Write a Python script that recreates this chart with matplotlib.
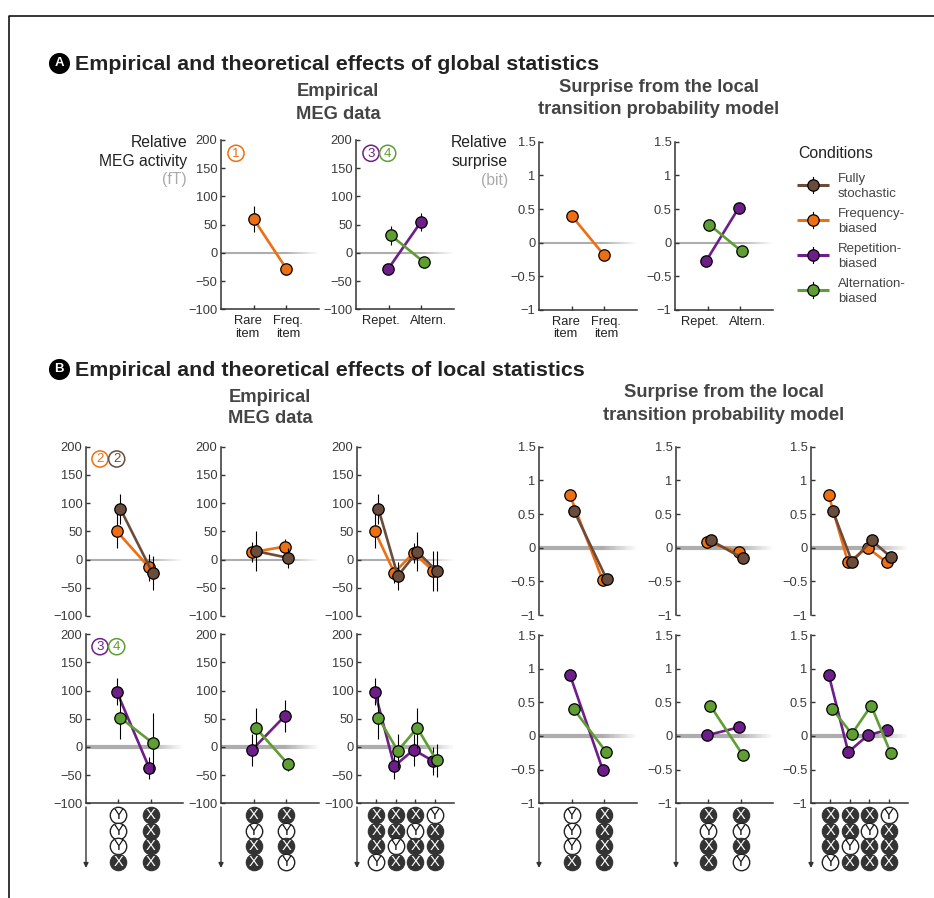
import matplotlib
matplotlib.use("Agg")
import matplotlib.pyplot as plt
import numpy as np
from matplotlib.collections import LineCollection

plt.rcParams['font.family'] = ['Liberation Sans', 'DejaVu Sans']
plt.rcParams['axes.unicode_minus'] = True

# ---------------- data ----------------
cond_names = ["Fully\nstochastic", "Frequency-\nbiased", "Repetition-\nbiased", "Alternation-\nbiased"]
cond_colors = ["#6B4C3B", "#EE6E12", "#6E1E88", "#5E9E32"]

emp_yticks = [-100, -50, 0, 50, 100, 150, 200]
emp_ylabels = ["\u2212100", "\u221250", "0", "50", "100", "150", "200"]
sur_yticks = [-1, -0.5, 0, 0.5, 1, 1.5]
sur_ylabels = ["\u22121", "\u22120.5", "0", "0.5", "1", "1.5"]

a_freq_labels = ["Rare\nitem", "Freq.\nitem"]
a_rep_labels = ["Repet.", "Altern."]

# Panel A, empirical (fT)
a_emp_orange = [60, -28]
a_emp_orange_err = [23, 9]
a_emp_purple = [-29, 54]
a_emp_purple_err = [8, 16]
a_emp_green = [31, -16]
a_emp_green_err = [17, 6]
# Panel A, surprise (bit)
a_sur_orange = [0.40, -0.19]
a_sur_purple = [-0.27, 0.52]
a_sur_green = [0.27, -0.13]

# Panel B, empirical, row 1 (frequency-biased / fully stochastic)
b1_emp_orange = [50, -14]
b1_emp_orange_err = [30, 24]
b1_emp_brown = [90, -24]
b1_emp_brown_err = [27, 30]
b2_emp_orange = [13, 23]
b2_emp_orange_err = [18, 13]
b2_emp_brown = [15, 3]
b2_emp_brown_err = [35, 18]
b3_emp_orange = [50, -23, 12, -20]
b3_emp_orange_err = [30, 18, 18, 35]
b3_emp_brown = [90, -29, 14, -20]
b3_emp_brown_err = [27, 25, 35, 35]
# Panel B, empirical, row 2 (repetition / alternation)
b1_emp_purple = [98, -37]
b1_emp_purple_err = [24, 20]
b1_emp_green = [52, 7]
b1_emp_green_err = [38, 53]
b2_emp_purple = [-5, 55]
b2_emp_purple_err = [28, 29]
b2_emp_green = [34, -31]
b2_emp_green_err = [35, 12]
b3_emp_purple = [98, -34, -5, -25]
b3_emp_purple_err = [24, 22, 28, 25]
b3_emp_green = [52, -7, 34, -24]
b3_emp_green_err = [38, 30, 35, 30]

# Panel B, surprise, row 1
s1_orange = [0.78, -0.48]
s1_brown = [0.55, -0.465]
s2_orange = [0.08, -0.06]
s2_brown = [0.11, -0.16]
s3_orange = [0.78, -0.22, 0.0, -0.22]
s3_brown = [0.55, -0.21, 0.11, -0.14]
# Panel B, surprise, row 2
s1_purple = [0.90, -0.505]
s1_green = [0.40, -0.24]
s2_purple = [0.01, 0.13]
s2_green = [0.45, -0.28]
s3_purple = [0.90, -0.24, 0.01, 0.09]
s3_green = [0.40, 0.03, 0.45, -0.25]

# Sequences shown below row-2 panels (top to bottom, one list per column)
seq_p1 = [["Y", "Y", "Y", "X"], ["X", "X", "X", "X"]]
seq_p2 = [["X", "Y", "X", "X"], ["X", "Y", "X", "Y"]]
seq_p3 = [["X", "X", "X", "Y"], ["X", "X", "Y", "X"], ["X", "Y", "X", "X"], ["Y", "X", "X", "X"]]

# ---------------- figure ----------------
W, H = 934, 898
fig = plt.figure(figsize=(W / 100, H / 100), dpi=100)

BROWN, ORANGE, PURPLE, GREEN = cond_colors
AX_COL = "#333333"
TXT = "#222222"
SUB = "#444444"


def rect(x0, y0, x1, y1):
    return [x0 / W, 1 - y1 / H, (x1 - x0) / W, (y1 - y0) / H]


# overlay axes in pixel coordinates
ov = fig.add_axes([0, 0, 1, 1])
ov.set_xlim(0, W)
ov.set_ylim(H, 0)
ov.axis("off")
ov.patch.set_visible(False)

# frame
ov.plot([9, 9, W], [H, 16, 16], color="k", lw=1.1, solid_capstyle="butt")


def zero_line(ax, xmax, lw):
    n = 80
    xs = np.linspace(0, xmax, n + 1)
    segs = [[(xs[i], 0), (xs[i + 1], 0)] for i in range(n)]
    t = (xs[:-1] + xs[1:]) / 2 / xmax
    alpha = np.clip((1 - t) / 0.35, 0, 1)
    cols = [(0.68, 0.68, 0.68, a) for a in alpha]
    lc = LineCollection(segs, colors=cols, linewidths=lw, zorder=1, capstyle="butt")
    ax.add_collection(lc)


def make_ax(x0, y0, x1, y1, kind, npts, bottom=True, xlabels=None, label_dx=None, zlw=1.5):
    ax = fig.add_axes(rect(x0, y0, x1, y1))
    ax.patch.set_visible(False)
    xmax = npts + 1
    ax.set_xlim(0, xmax)
    ax.px_per_unit = (x1 - x0) / xmax
    if kind == "emp":
        ax.set_ylim(-100, 200)
        ax.set_yticks(emp_yticks)
        ax.set_yticklabels(emp_ylabels)
    else:
        ax.set_ylim(-1, 1.5)
        ax.set_yticks(sur_yticks)
        ax.set_yticklabels(sur_ylabels)
    for s in ["top", "right"]:
        ax.spines[s].set_visible(False)
    ax.spines["left"].set_color(AX_COL)
    ax.spines["left"].set_linewidth(1.1)
    ax.spines["bottom"].set_color(AX_COL)
    ax.spines["bottom"].set_linewidth(1.1)
    ax.tick_params(axis="y", direction="in", length=3, width=1, colors=AX_COL,
                   labelsize=9.3, pad=2.5, labelcolor="#3a3a3a")
    ax.set_xticks(np.arange(1, npts + 1))
    ax.set_xticklabels([])
    if bottom:
        ax.tick_params(axis="x", direction="in", length=3, width=1, colors=AX_COL)
        if xlabels is not None:
            hpx = (y1 - y0)
            for k, lab in enumerate(xlabels):
                xx = k + 1 + label_dx[k] / ax.px_per_unit
                ax.text(xx, -6.0 / hpx, lab, transform=ax.get_xaxis_transform(),
                        ha="center", va="top", fontsize=9.3, color="#222222",
                        linespacing=1.05)
    else:
        ax.spines["bottom"].set_visible(False)
        ax.tick_params(axis="x", length=0)
    zero_line(ax, xmax, zlw)
    return ax


def series(ax, ys, color, dpx, errs=None, base=3):
    ys = np.asarray(ys, dtype=float)
    x = np.arange(1, len(ys) + 1) + dpx / ax.px_per_unit
    if errs is not None:
        e = np.asarray(errs, dtype=float)
        ax.vlines(x, ys - e, ys + e, color="k", lw=0.8, zorder=base)
    ax.plot(x, ys, color=color, lw=1.9, zorder=base + 0.5, solid_capstyle="butt")
    ax.plot(x, ys, "o", ms=8.2, mfc=color, mec="k", mew=0.9, zorder=base + 1,
            clip_on=False)


def symbols(x0, x1, npts, seqs, arrow_top, arrow_bot, ys):
    sa = fig.add_axes(rect(x0, arrow_top - 4, x1, arrow_bot + 6))
    sa.set_xlim(0, npts + 1)
    sa.set_ylim(arrow_bot + 6, arrow_top - 4)
    sa.axis("off")
    sa.patch.set_visible(False)
    sa.annotate("", xy=(0, arrow_bot), xytext=(0, arrow_top),
                arrowprops=dict(arrowstyle="-|>", color=AX_COL, lw=1.0,
                                mutation_scale=7, shrinkA=0, shrinkB=0),
                annotation_clip=False)
    for ci, col in enumerate(seqs):
        for ri, sym in enumerate(col):
            xx = ci + 1
            yy = ys[ri]
            if sym == "X":
                sa.scatter([xx], [yy], s=140, c="#333333", edgecolors="#333333",
                           linewidths=0.8, zorder=3, clip_on=False)
                sa.text(xx, yy + 0.4, "X", color="white", fontsize=10.5, ha="center",
                        va="center", zorder=4)
            else:
                sa.scatter([xx], [yy], s=140, c="white", edgecolors="#222222",
                           linewidths=1.0, zorder=3, clip_on=False)
                sa.text(xx, yy + 0.4, "Y", color="#111111", fontsize=10.5, ha="center",
                        va="center", zorder=4)


def circ_digit(x, y, d, color):
    ov.scatter([x], [y], s=135, facecolors="none", edgecolors=color, linewidths=1.1)
    ov.text(x, y + 0.5, d, color=color, fontsize=9.5, ha="center", va="center")


def section(x, y, letter, title, baseline):
    ov.scatter([x], [y], s=200, c="k")
    ov.text(x, y + 0.5, letter, color="white", fontsize=9.5, fontweight="bold",
            ha="center", va="center")
    ov.text(75, baseline, title, fontsize=15.4, fontweight="bold", color=TXT,
            ha="left", va="baseline")


def subtitle(xc, b1, b2, l1, l2):
    ov.text(xc, b1, l1, fontsize=13.2, fontweight="bold", color=SUB, ha="center", va="baseline")
    ov.text(xc, b2, l2, fontsize=13.2, fontweight="bold", color=SUB, ha="center", va="baseline")


# ---------------- section A ----------------
section(59, 63, "A", "Empirical and theoretical effects of global statistics", 70)
subtitle(338, 96.5, 119, "Empirical", "MEG data")
subtitle(659, 92, 114, "Surprise from the local", "transition probability model")

for txt, b, c in [("Relative", 146.7, TXT), ("MEG activity", 166, TXT), ("(fT)", 184, "#aaaaaa")]:
    ov.text(187, b, txt, fontsize=11.3, color=c, ha="right", va="baseline")
for txt, b, c in [("Relative", 146.7, TXT), ("surprise", 166, TXT), ("(bit)", 185, "#aaaaaa")]:
    ov.text(508, b, txt, fontsize=11.3, color=c, ha="right", va="baseline")

freq_dx = [-6, 1.5]
rep_dx = [-8, 7.5]

A1 = make_ax(221, 140, 319, 309.3, "emp", 2, xlabels=a_freq_labels, label_dx=freq_dx)
series(A1, a_emp_orange, ORANGE, 0, a_emp_orange_err)
A2 = make_ax(356, 140, 454, 309.3, "emp", 2, xlabels=a_rep_labels, label_dx=rep_dx)
series(A2, a_emp_purple, PURPLE, -0.7, a_emp_purple_err, base=3)
series(A2, a_emp_green, GREEN, 2.3, a_emp_green_err, base=6)
circ_digit(236, 153.3, "1", ORANGE)
circ_digit(371, 153.3, "3", PURPLE)
circ_digit(387.7, 153.3, "4", GREEN)

A3 = make_ax(539, 141.7, 637, 310, "sur", 2, xlabels=a_freq_labels, label_dx=freq_dx)
series(A3, a_sur_orange, ORANGE, 0)
A4 = make_ax(675, 141.7, 773, 310, "sur", 2, xlabels=a_rep_labels, label_dx=rep_dx)
series(A4, a_sur_purple, PURPLE, -1.5, base=3)
series(A4, a_sur_green, GREEN, 1.5, base=6)

# legend
ov.text(798, 158.3, "Conditions", fontsize=11.4, color=TXT, ha="left", va="baseline")
leg_y = [185, 219.5, 254.5, 289.5]
for name, col, yy in zip(cond_names, cond_colors, leg_y):
    ov.plot([797, 829], [yy, yy], color=col, lw=2.2, solid_capstyle="butt", zorder=2)
    ov.plot([813, 813], [yy - 8, yy + 8], color="k", lw=0.8, zorder=3)
    ov.plot([813], [yy], "o", ms=8.2, mfc=col, mec="k", mew=0.9, zorder=4)
    l1, l2 = name.split("\n")
    ov.text(838, yy - 2.7, l1, fontsize=9.5, color=SUB, ha="left", va="baseline")
    ov.text(838, yy + 12.3, l2, fontsize=9.5, color=SUB, ha="left", va="baseline")

# ---------------- section B ----------------
section(59, 369, "B", "Empirical and theoretical effects of local statistics", 376)
subtitle(270, 402.5, 423, "Empirical", "MEG data")
subtitle(724, 397, 420, "Surprise from the local", "transition probability model")

emp_x = [(86, 183), (221, 319), (357, 454)]
sur_x = [(539, 637), (676, 773), (811, 908)]
npts_list = [2, 2, 4]
seqs_list = [seq_p1, seq_p2, seq_p3]

row1_emp = [(b1_emp_orange, b1_emp_orange_err, b1_emp_brown, b1_emp_brown_err),
            (b2_emp_orange, b2_emp_orange_err, b2_emp_brown, b2_emp_brown_err),
            (b3_emp_orange, b3_emp_orange_err, b3_emp_brown, b3_emp_brown_err)]
row2_emp = [(b1_emp_purple, b1_emp_purple_err, b1_emp_green, b1_emp_green_err),
            (b2_emp_purple, b2_emp_purple_err, b2_emp_green, b2_emp_green_err),
            (b3_emp_purple, b3_emp_purple_err, b3_emp_green, b3_emp_green_err)]
row1_sur = [(s1_orange, s1_brown), (s2_orange, s2_brown), (s3_orange, s3_brown)]
row2_sur = [(s1_purple, s1_green), (s2_purple, s2_green), (s3_purple, s3_green)]

sym_rows = [815, 830.7, 846, 861.7]

for i in range(3):
    x0, x1 = emp_x[i]
    n = npts_list[i]
    ax = make_ax(x0, 446.7, x1, 616, "emp", n, bottom=False, zlw=1.5)
    o, oe, b, be = row1_emp[i]
    series(ax, o, ORANGE, -1.5, oe, base=3)
    series(ax, b, BROWN, 2.0, be, base=6)

    ax = make_ax(x0, 634.3, x1, 803.3, "emp", n, bottom=True, zlw=3)
    p, pe, g, ge = row2_emp[i]
    series(ax, p, PURPLE, -1.5, pe, base=3)
    series(ax, g, GREEN, 2.0, ge, base=6)
    symbols(x0, x1, n, seqs_list[i], 807, 868, sym_rows)

    sx0, sx1 = sur_x[i]
    ax = make_ax(sx0, 446.7, sx1, 615, "sur", n, bottom=False, zlw=3)
    o, b = row1_sur[i]
    series(ax, o, ORANGE, -1.7, base=3)
    series(ax, b, BROWN, 2.3, base=6)

    ax = make_ax(sx0, 635, sx1, 803.3, "sur", n, bottom=True, zlw=3)
    p, g = row2_sur[i]
    series(ax, p, PURPLE, -1.5, base=3)
    series(ax, g, GREEN, 2.0, base=6)
    symbols(sx0, sx1, n, seqs_list[i], 808, 868, sym_rows)

circ_digit(100, 459, "2", ORANGE)
circ_digit(116.7, 459, "2", BROWN)
circ_digit(100, 646.7, "3", PURPLE)
circ_digit(116.7, 646.7, "4", GREEN)

fig.savefig("out.png", dpi=100)
